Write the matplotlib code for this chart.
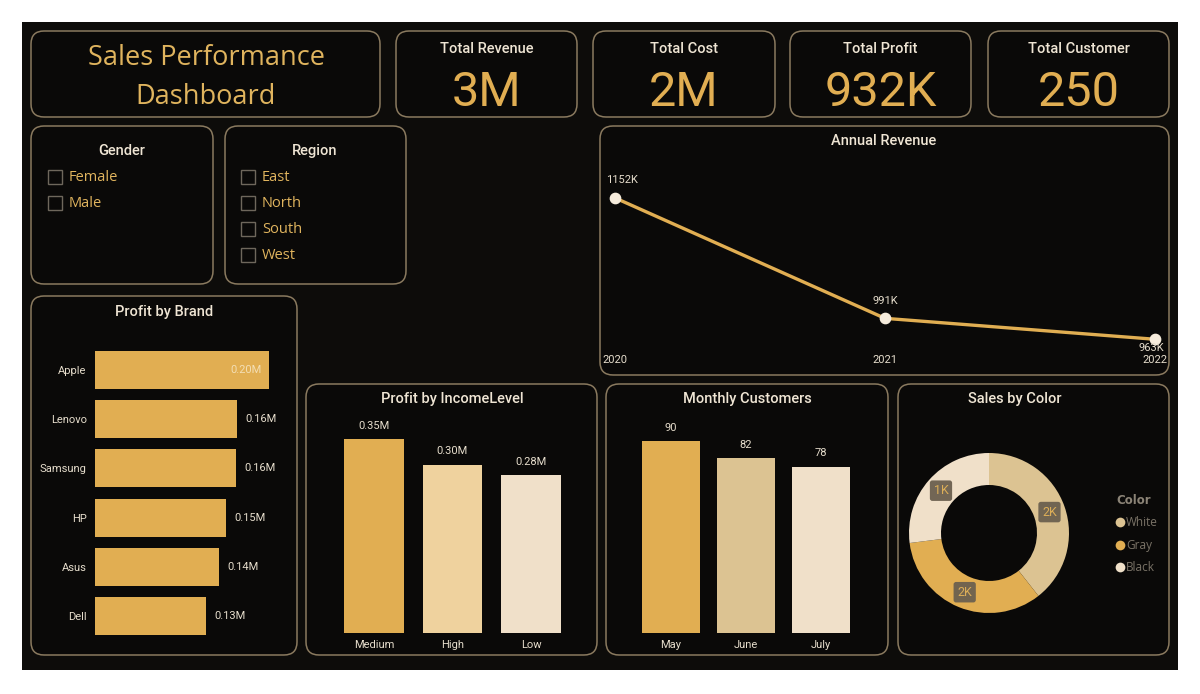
import matplotlib
matplotlib.use("Agg")
import matplotlib.pyplot as plt
from matplotlib.patches import FancyBboxPatch, Rectangle
from matplotlib.lines import Line2D
import numpy as np

# ---------------- data ----------------
kpi_titles = ["Total Revenue", "Total Cost", "Total Profit", "Total Customer"]
kpi_values = ["3M", "2M", "932K", "250"]

genders = ["Female", "Male"]
regions = ["East", "North", "South", "West"]

years = ["2020", "2021", "2022"]
annual_revenue_k = [1152, 991, 963]

brands = ["Apple", "Lenovo", "Samsung", "HP", "Asus", "Dell"]
brand_profit_m = [0.200, 0.163, 0.162, 0.151, 0.143, 0.128]

income_levels = ["Medium", "High", "Low"]
income_profit_m = [0.350, 0.304, 0.285]

months = ["May", "June", "July"]
month_customers = [90, 82, 78]

colors_names = ["White", "Gray", "Black"]
color_sales = [1970, 1680, 1350]

# ---------------- style ----------------
W, H = 1200, 694
BG = "#0d0c0a"
CARD = "#0a0908"
EDGE = "#8a7a5f"
GOLD = "#e1ae52"
GOLD_TXT = "#e0b45e"
CREAM = "#efe5d4"
LBL = "#e6ddcc"
C_LIGHT = "#efd29e"
C_LIGHTER = "#f0e0c9"
C_TAN = "#dcc392"
DIN = ["Roboto", "DejaVu Sans"]
SEG = ["Open Sans", "DejaVu Sans"]

fig = plt.figure(figsize=(W / 100, H / 100), dpi=100, facecolor="white")

bg = fig.add_axes([0, 0, 1, 1])
bg.set_xlim(0, W)
bg.set_ylim(H, 0)
bg.axis("off")
bg.add_patch(Rectangle((22, 22), 1156, 648, facecolor=BG, edgecolor="none"))


def card(x0, y0, x1, y1):
    bg.add_patch(FancyBboxPatch((x0, y0), x1 - x0, y1 - y0,
                                boxstyle="round,pad=0,rounding_size=13",
                                facecolor=CARD, edgecolor=EDGE, lw=1.1))


def px_ax(x0, y0, x1, y1):
    ax = fig.add_axes([x0 / W, 1 - y1 / H, (x1 - x0) / W, (y1 - y0) / H])
    ax.patch.set_visible(False)
    for s in ax.spines.values():
        s.set_visible(False)
    return ax


# cards
card(31, 31, 380, 117)
kpi_boxes = [(396, 577), (593, 775), (790, 971), (988, 1169)]
for (a, b) in kpi_boxes:
    card(a, 31, b, 117)
card(31, 126, 213, 284)
card(225, 126, 406, 284)
card(600, 126, 1169, 375)
card(31, 296, 297, 655)
card(306, 384, 597, 655)
card(606, 384, 888, 655)
card(898, 384, 1169, 655)

# title
bg.text(206, 58, "Sales Performance", ha="center", va="center", color=GOLD_TXT,
        fontsize=19.5, family=SEG)
bg.text(206, 97, "Dashboard", ha="center", va="center", color=GOLD_TXT,
        fontsize=19.5, family=SEG)

# KPIs
for (a, b), t, v in zip(kpi_boxes, kpi_titles, kpi_values):
    cx = (a + b) / 2
    bg.text(cx, 49, t, ha="center", va="center", color=CREAM, fontsize=10.5,
            family=DIN, fontweight="medium")
    bg.text(cx, 93, v, ha="center", va="center", color=GOLD, fontsize=35,
            family=DIN, fontweight="normal")

# slicers
bg.text(122, 151, "Gender", ha="center", va="center", color=CREAM, fontsize=10.5,
        family=DIN, fontweight="medium")
for i, g in enumerate(genders):
    y = 177 + 26 * i
    bg.add_patch(Rectangle((48, y - 7), 14, 14, facecolor="none", edgecolor="#6e675c", lw=1))
    bg.text(69, y, g, ha="left", va="center", color=GOLD_TXT, fontsize=10.5, family=SEG)

bg.text(315, 151, "Region", ha="center", va="center", color=CREAM, fontsize=10.5,
        family=DIN, fontweight="medium")
for i, r in enumerate(regions):
    y = 177 + 26 * i
    bg.add_patch(Rectangle((241, y - 7), 14, 14, facecolor="none", edgecolor="#6e675c", lw=1))
    bg.text(262, y, r, ha="left", va="center", color=GOLD_TXT, fontsize=10.5, family=SEG)

# chart titles
for (x, y, t) in [(884, 141, "Annual Revenue"), (164, 312, "Profit by Brand"),
                  (452, 399, "Profit by IncomeLevel"), (747, 399, "Monthly Customers"),
                  (1015, 399, "Sales by Color")]:
    bg.text(x, y, t, ha="center", va="center", color=CREAM, fontsize=10.5,
            family=DIN, fontweight="medium")

# ---------------- Annual Revenue ----------------
ax = px_ax(601.5, 162, 1168.5, 349)
xs = np.arange(len(years))
ax.plot(xs, annual_revenue_k, color=GOLD, lw=2.4, zorder=2, clip_on=False)
ax.scatter(xs, annual_revenue_k, s=55, color="#f6ecdc", zorder=3, clip_on=False)
ax.set_xlim(-0.05, 2.05)
ax.set_ylim(950, 1200)
ax.set_yticks([])
ax.set_xticks([])
year_ha = ["left", "center", "right"]
year_dx = [-9, 0, 9]
for i, yr in enumerate(years):
    ax.annotate(yr, (xs[i], 0), xycoords=("data", "axes fraction"),
                xytext=(year_dx[i], -8), textcoords="offset points",
                ha=year_ha[i], va="center", color=LBL, fontsize=8, family=DIN)
lab_off = [(5, 9), (0, 9), (-3, -3)]
for i, v in enumerate(annual_revenue_k):
    ax.annotate(f"{v}K", (xs[i], v), xytext=lab_off[i], textcoords="offset points",
                ha="center", va="bottom" if i < 2 else "top", color=LBL, fontsize=8,
                family=DIN)

# ---------------- Profit by Brand ----------------
ax = px_ax(95, 345.4, 312.5, 640.6)
yb = np.arange(len(brands))
ax.barh(yb, brand_profit_m, height=0.77, color=GOLD)
ax.set_xlim(0, 0.25)
ax.set_ylim(len(brands) - 0.5, -0.5)
ax.set_xticks([])
ax.set_yticks(yb)
ax.set_yticklabels(brands, color=LBL, fontsize=8, family=DIN)
ax.tick_params(axis="y", length=0, pad=6)
for i, v in enumerate(brand_profit_m):
    if i == 0:
        ax.annotate(f"{v:.2f}M", (v, i), xytext=(-5, 0), textcoords="offset points",
                    ha="right", va="center", color="#f3deb4", fontsize=8, family=DIN)
    else:
        ax.annotate(f"{v:.2f}M", (v, i), xytext=(6, 0), textcoords="offset points",
                    ha="left", va="center", color=LBL, fontsize=8, family=DIN)

# ---------------- Profit by IncomeLevel ----------------
ax = px_ax(334.75, 411.3, 570.25, 633)
xi = np.arange(len(income_levels))
ax.bar(xi, income_profit_m, width=0.764, color=[GOLD, C_LIGHT, C_LIGHTER])
ax.set_xlim(-0.5, 2.5)
ax.set_ylim(0, 0.4)
ax.set_yticks([])
ax.set_xticks(xi)
ax.set_xticklabels(income_levels, color=LBL, fontsize=8, family=DIN)
ax.tick_params(axis="x", length=0, pad=5)
for i, v in enumerate(income_profit_m):
    ax.annotate(f"{v:.2f}M", (i, v), xytext=(0, 6), textcoords="offset points",
                ha="center", va="bottom", color=LBL, fontsize=8, family=DIN)

# ---------------- Monthly Customers ----------------
ax = px_ax(633.5, 419.7, 858.5, 633)
xm = np.arange(len(months))
ax.bar(xm, month_customers, width=0.773, color=[GOLD, C_TAN, C_LIGHTER])
ax.set_xlim(-0.5, 2.5)
ax.set_ylim(0, 100)
ax.set_yticks([])
ax.set_xticks(xm)
ax.set_xticklabels(months, color=LBL, fontsize=8, family=DIN)
ax.tick_params(axis="x", length=0, pad=5)
for i, v in enumerate(month_customers):
    ax.annotate(f"{v}", (i, v), xytext=(0, 6), textcoords="offset points",
                ha="center", va="bottom", color=LBL, fontsize=8, family=DIN)

# ---------------- Sales by Color ----------------
ax = px_ax(893, 437, 1085, 629)
pie_cols = [C_TAN, GOLD, C_LIGHTER]
wedges, _ = ax.pie(color_sales, colors=pie_cols, startangle=90, counterclock=False,
                   radius=1.0, wedgeprops=dict(width=0.4, edgecolor="none"))
ax.set_xlim(-1.2, 1.2)
ax.set_ylim(-1.2, 1.2)
for w, v in zip(wedges, color_sales):
    ang = np.deg2rad((w.theta1 + w.theta2) / 2)
    r = 0.8
    ax.text(r * np.cos(ang), r * np.sin(ang), f"{v / 1000:.0f}K", ha="center", va="center",
            color="#dcae58", fontsize=9, family=DIN,
            bbox=dict(boxstyle="round,pad=0.3,rounding_size=0.2", facecolor="#6b604f",
                      edgecolor="none", alpha=0.95))

handles = [Line2D([], [], marker="o", ls="none", markersize=7, markerfacecolor=c,
                  markeredgecolor="none") for c in pie_cols]
leg = fig.legend(handles, colors_names, title="Color", loc="upper left",
                 bbox_to_anchor=(1110 / W, 1 - 488 / H), frameon=False,
                 labelcolor="#7a7367", handlelength=0.7,
                 handletextpad=0.15, labelspacing=0.8, borderpad=0, alignment="left",
                 prop=dict(family=SEG, size=8.5))
leg.get_title().set_color("#8b8376")
leg.get_title().set_fontweight("bold")
leg.get_title().set_fontsize(8.5)

fig.savefig("out.png", dpi=100, facecolor="white")
